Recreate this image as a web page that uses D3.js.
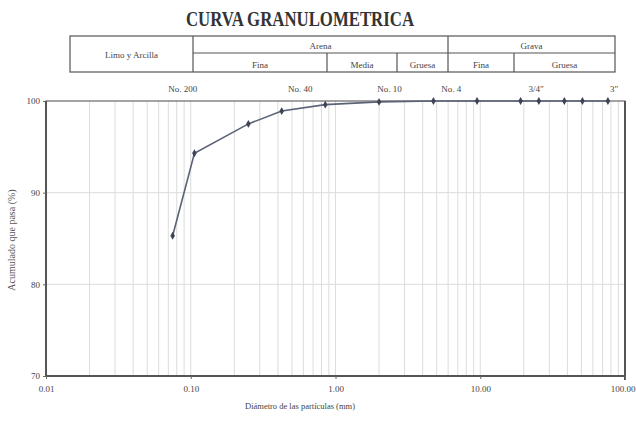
<!DOCTYPE html>
<html><head><meta charset="utf-8">
<script src="https://cdn.jsdelivr.net/npm/d3@7"></script>
<style>body{margin:0;background:#fff}svg{display:block}</style>
</head><body>
<svg id="c" width="636" height="425"></svg>
<script>
const diameters = [0.075, 0.106, 0.25, 0.425, 0.85, 2.0, 4.75, 9.5, 19.0, 25.4, 38.1, 50.8, 76.2];
const passing   = [85.3, 94.3, 97.5, 98.9, 99.6, 99.9, 100, 100, 100, 100, 100, 100, 100];
const xTicks = [0.01, 0.1, 1, 10, 100];
const xTickLabels = ["0.01", "0.10", "1.00", "10.00", "100.00"];
const yTicks = [70, 80, 90, 100];
const sieveLabels = ["No. 200", "No. 40", "No. 10", "No. 4", "3/4\"", "3\""];
const sieveLabelPos = [0.088, 0.57, 2.36, 6.3, 24.3, 84];
const headerTop = ["Limo y Arcilla", "Arena", "Grava"];
const headerSub = ["Fina", "Media", "Gruesa", "Fina", "Gruesa"];

const svg = d3.select("#c");
const L = 46, R = 625, T = 101, B = 376;
const x = d3.scaleLog().domain([0.01, 100]).range([L, R]);
const y = d3.scaleLinear().domain([70, 100]).range([B, T]);
const serif = "'Liberation Serif','DejaVu Serif',serif";

// title
svg.append("text").attr("x", 300).attr("y", 26).attr("text-anchor", "middle")
  .attr("font-family", serif).attr("font-weight", "bold").attr("font-size", 20)
  .attr("fill", "#333").attr("transform", "translate(300,0) scale(0.84,1) translate(-300,0)")
  .text("CURVA GRANULOMETRICA");

// header table
const tb = svg.append("g").attr("stroke", "#555").attr("fill", "none").attr("stroke-width", 1.2);
const tL = 70, tR = 615, tT = 36, tM = 53, tB = 72;
const cSplit = 193, cAG = 448;
const subX = [193, 327, 397, 448, 514, 615];
tb.append("rect").attr("x", tL).attr("y", tT).attr("width", tR - tL).attr("height", tB - tT);
tb.append("line").attr("x1", cSplit).attr("x2", cSplit).attr("y1", tT).attr("y2", tB);
tb.append("line").attr("x1", cSplit).attr("x2", tR).attr("y1", tM).attr("y2", tM);
tb.append("line").attr("x1", cAG).attr("x2", cAG).attr("y1", tT).attr("y2", tB);
[327, 397, 514].forEach(v => tb.append("line").attr("x1", v).attr("x2", v).attr("y1", tM).attr("y2", tB));
const ht = svg.append("g").attr("font-family", serif).attr("font-size", 9).attr("fill", "#444").attr("text-anchor", "middle");
ht.append("text").attr("x", (tL + cSplit) / 2).attr("y", 58).text(headerTop[0]);
ht.append("text").attr("x", (cSplit + cAG) / 2).attr("y", 49).text(headerTop[1]);
ht.append("text").attr("x", (cAG + tR) / 2).attr("y", 49).text(headerTop[2]);
headerSub.forEach((t, i) => ht.append("text").attr("x", (subX[i] + subX[i + 1]) / 2).attr("y", 68).text(t));

// grid
const grid = svg.append("g");
const minor = [];
for (let e = -2; e < 2; e++) for (let k = 1; k <= 9; k++) { const v = k * Math.pow(10, e); if (v > 0.01) minor.push(v); }
grid.selectAll("line.v").data(minor).join("line")
  .attr("x1", d => x(d)).attr("x2", d => x(d)).attr("y1", T).attr("y2", B)
  .attr("stroke", "#dcdcdc").attr("stroke-width", 1);
grid.selectAll("line.h").data([80, 90]).join("line")
  .attr("x1", L).attr("x2", R).attr("y1", d => y(d)).attr("y2", d => y(d))
  .attr("stroke", "#dcdcdc").attr("stroke-width", 1);

// frame
svg.append("rect").attr("x", L).attr("y", T).attr("width", R - L).attr("height", B - T)
  .attr("fill", "none").attr("stroke", "#666").attr("stroke-width", 1.2);
svg.append("line").attr("x1", L).attr("x2", L).attr("y1", T).attr("y2", B).attr("stroke", "#555").attr("stroke-width", 2);
svg.append("line").attr("x1", L).attr("x2", R).attr("y1", B).attr("y2", B).attr("stroke", "#555").attr("stroke-width", 2);
svg.append("line").attr("x1", R).attr("x2", R).attr("y1", T).attr("y2", B + 4).attr("stroke", "#555").attr("stroke-width", 2);

// axes
const yAxis = d3.axisLeft(y).tickValues(yTicks).tickSize(3).tickFormat(d3.format("d"));
const ya = svg.append("g").attr("transform", `translate(${L},0)`).call(yAxis);
ya.select(".domain").remove();
ya.selectAll("text").attr("font-family", serif).attr("font-size", 9).attr("fill", "#444");
ya.selectAll("line").attr("stroke", "#666");

const xAxis = d3.axisBottom(x).tickValues(xTicks).tickSize(3).tickFormat((d, i) => xTickLabels[i]);
const xa = svg.append("g").attr("transform", `translate(0,${B})`).call(xAxis);
xa.select(".domain").remove();
xa.selectAll("text").attr("font-family", serif).attr("font-size", 9).attr("fill", "#444").attr("dy", "1.1em");
xa.selectAll("line").attr("stroke", "#666");
xa.selectAll("text").filter(d => d === 100).attr("text-anchor", "end").attr("x", 10);

// sieve labels on top
svg.append("g").selectAll("text").data(sieveLabels).join("text")
  .attr("x", (d, i) => x(sieveLabelPos[i])).attr("y", 92).attr("text-anchor", "middle")
  .attr("font-family", serif).attr("font-size", 9).attr("fill", "#444").text(d => d);

// axis titles
svg.append("text").attr("transform", "translate(15,240) rotate(-90)").attr("text-anchor", "middle")
  .attr("font-family", serif).attr("font-size", 10).attr("fill", "#555").text("Acumulado que pasa (%)");
svg.append("text").attr("x", 300).attr("y", 409).attr("text-anchor", "middle")
  .attr("font-family", serif).attr("font-size", 8.5).attr("fill", "#444").text("Diámetro de las partículas (mm)");

// curve
const pts = diameters.map((d, i) => [d, passing[i]]);
svg.append("path").datum(pts)
  .attr("d", d3.line().x(d => x(d[0])).y(d => y(d[1])))
  .attr("fill", "none").attr("stroke", "#5a6275").attr("stroke-width", 1.6);
svg.append("g").selectAll("path").data(pts).join("path")
  .attr("transform", d => `translate(${x(d[0])},${y(d[1])})`)
  .attr("d", d3.symbol(d3.symbolDiamond, 18))
  .attr("fill", "#3e4455");
</script>
</body></html>
